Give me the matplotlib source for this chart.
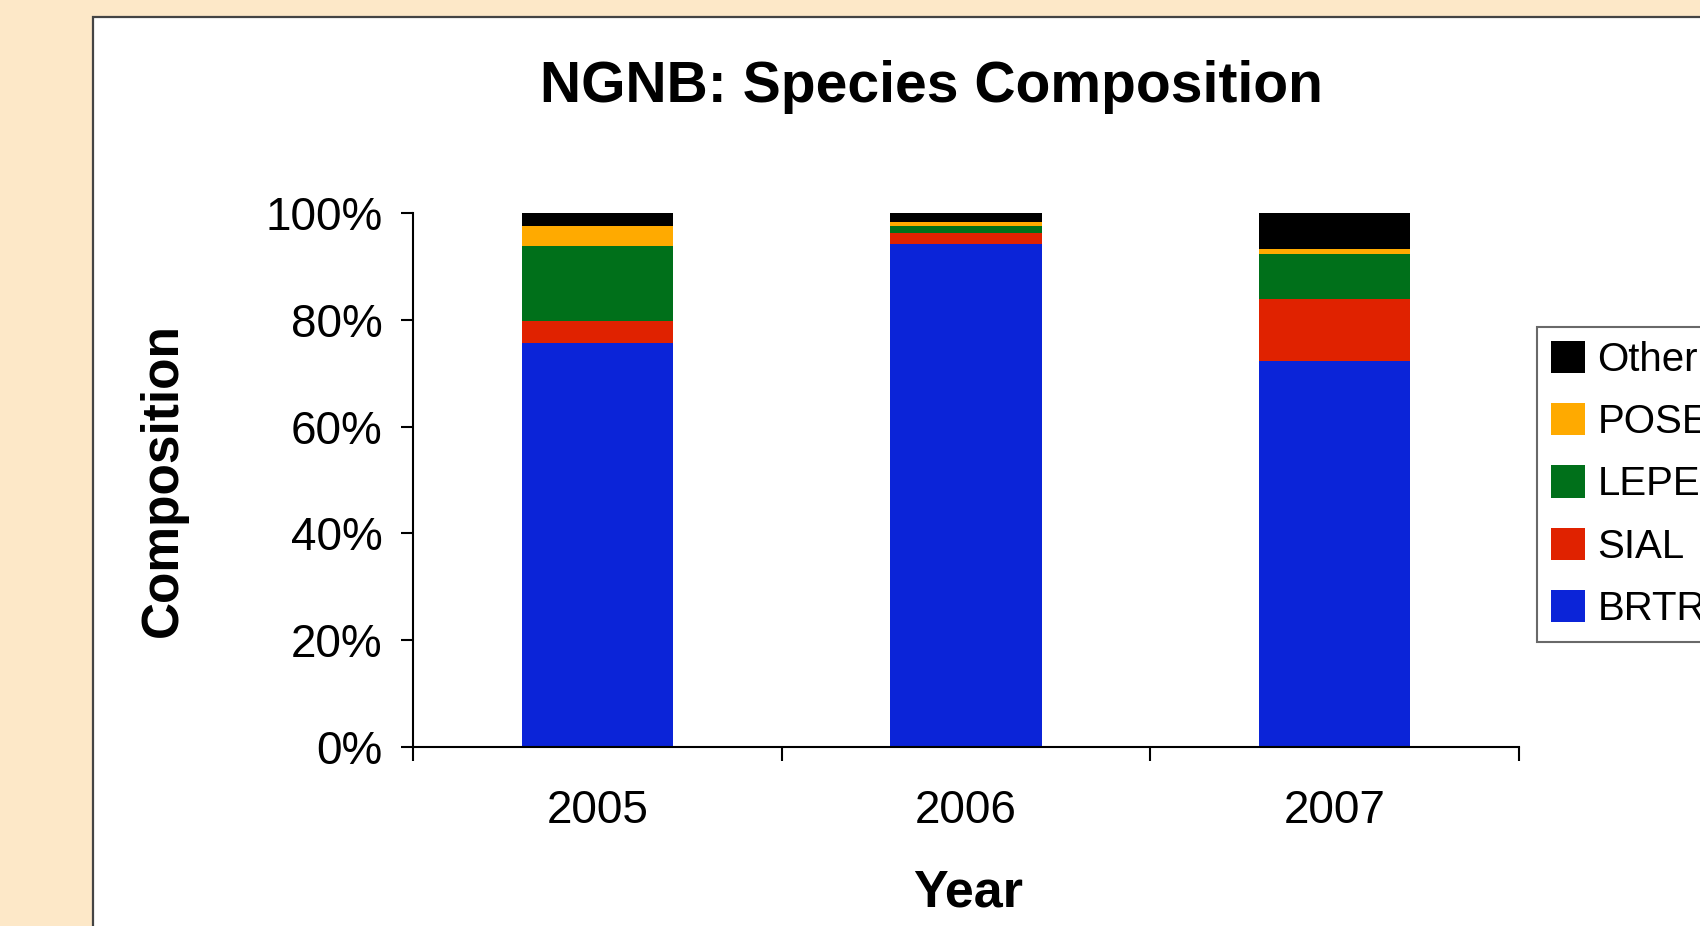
import numpy as np
import matplotlib
matplotlib.use("Agg")
from matplotlib import pyplot as plt
from matplotlib.patches import Rectangle

plt.rcParams['font.family'] = ['Liberation Sans', 'DejaVu Sans']

# 数据 (百分比)
years = ['2005', '2006', '2007']
species = ['BRTR', 'SIAL', 'LEPE', 'POSE', 'Other']
brtr = [75.6, 94.2, 72.3]
sial = [4.2, 2.0, 11.6]
lepe = [14.1, 1.3, 8.5]
pose = [3.7, 0.75, 0.8]
other = [2.4, 1.75, 6.8]
colors = ['#0B24D8', '#E02200', '#00701A', '#FFAA00', '#000000']

W, H = 1700, 926
fig = plt.figure(figsize=(W / 100, H / 100), dpi=100)
fig.patch.set_facecolor('#FDE8C8')

# 白色面板
panel = Rectangle((93 / W, -0.1), 1.2, 1 - 17 / H + 0.1, transform=fig.transFigure,
                  facecolor='white', edgecolor='#444444', linewidth=1.6, zorder=-10)
fig.patches.append(panel)

ax = fig.add_axes([413 / W, 1 - 747 / H, (1519 - 413) / W, (747 - 213) / H])
ax.set_facecolor('none')
ax.set_zorder(5)

x = np.arange(len(years))
bottom = np.zeros(len(years))
for name, vals, c in zip(species, [brtr, sial, lepe, pose, other], colors):
    ax.bar(x, vals, width=0.41, bottom=bottom, color=c, label=name)
    bottom += np.array(vals)

ax.set_xlim(-0.5, 2.5)
ax.set_ylim(0, 100)
ax.set_yticks(np.arange(0, 101, 20))
ax.set_yticklabels(['%d%%' % v for v in range(0, 101, 20)])
ax.set_xticks([-0.5, 0.5, 1.5, 2.5])
ax.set_xticklabels([])
ax.set_xticks(x, minor=True)
ax.set_xticklabels(years, minor=True)
ax.tick_params(axis='x', which='major', direction='out', length=10, width=1.5)
ax.tick_params(axis='x', which='minor', length=0, pad=30, labelsize=33)
ax.tick_params(axis='y', direction='out', length=9, width=1.5, pad=13, labelsize=33)

for s in ['top', 'right']:
    ax.spines[s].set_visible(False)
for s in ['left', 'bottom']:
    ax.spines[s].set_linewidth(1.5)

fig.text(931 / W, 1 - 87 / H, 'NGNB: Species Composition', ha='center', va='center',
         fontsize=41, fontweight='bold')
fig.text(163 / W, 1 - 480 / H, 'Composition', ha='center', va='center',
         rotation=90, fontsize=37, fontweight='bold')
fig.text(968 / W, 1 - 893 / H, 'Year', ha='center', va='center',
         fontsize=37.5, fontweight='bold')

handles, labels = ax.get_legend_handles_labels()
leg = fig.legend(handles[::-1], labels[::-1], loc='upper left',
                 bbox_to_anchor=(1537 / W, 1 - 327 / H), fontsize=29,
                 frameon=True, fancybox=False, edgecolor='#444444',
                 handlelength=0.85, handleheight=0.85, handletextpad=0.3,
                 labelspacing=0.6, borderpad=0.35, borderaxespad=0)
leg.get_frame().set_linewidth(1.5)

fig.savefig('out.png', dpi=100, facecolor=fig.get_facecolor())
